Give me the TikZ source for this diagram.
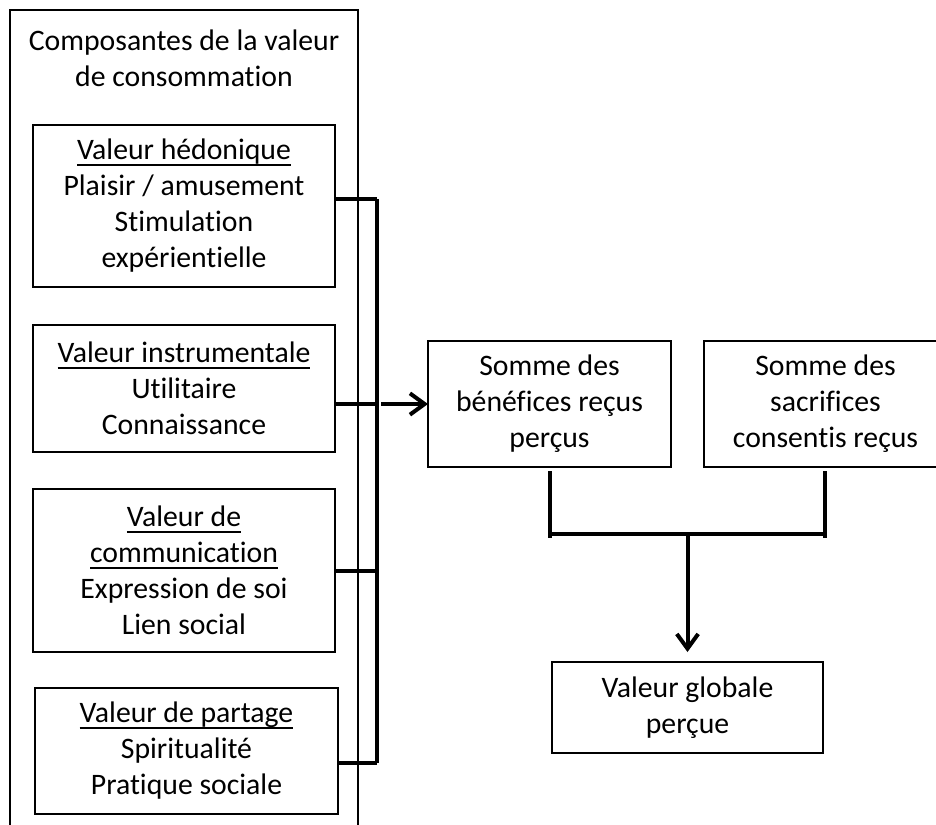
\documentclass[tikz,border=0pt]{standalone}
\usepackage{fontspec}
\setmainfont{Carlito}[RawFeature={-liga;-clig;-calt}]
\usetikzlibrary{arrows.meta}

% underline drawn at a fixed depth below the baseline
\newcommand{\ulword}[1]{\setbox0=\hbox{#1}\rlap{\vrule height -3.3pt depth 4.5pt width \wd0}\box0}

\begin{document}
\begin{tikzpicture}[
  x=0.75pt, y=-0.75pt,
  font=\fontsize{22.3}{27}\selectfont,
  thinline/.style={line width=1.3pt},
  heavy/.style={line width=3pt},
  valbox/.style 2 args={draw, thinline, align=center, inner sep=0pt, outer sep=0pt,
    minimum width=#1*0.75pt, minimum height=#2*0.75pt},
  tip/.style={-{Straight Barb[length=11pt,width=16pt]}},
]
\useasboundingbox (0,0) rectangle (936,825);
\clip (0,0) rectangle (936,825);

% outer frame, open at the bottom of the page
\node[valbox={348}{844}] (frame) at (184,432) {};
\node[align=center] (title) at (184,58) {Composantes de la valeur\\de consommation};

% the four value components
\node[valbox={302}{162}] (h1) at (184,206)
  {\ulword{Valeur hédonique}\\Plaisir / amusement\\Stimulation\\expérientielle};
\node[valbox={302}{127}] (h2) at (184,388.5)
  {\ulword{Valeur instrumentale}\\Utilitaire\\Connaissance};
\node[valbox={302}{163}] (h3) at (184,570.5)
  {\ulword{Valeur de}\\\ulword{communication}\\Expression de soi\\Lien social};
\node[valbox={303}{126}] (h4) at (186.5,751)
  {\ulword{Valeur de partage}\\Spiritualité\\Pratique sociale};

% benefits, sacrifices, overall value
\node[valbox={243}{126}] (ben) at (549.5,404) {Somme des\\bénéfices reçus\\perçus};
\node[valbox={243}{126}] (sac) at (825.5,404) {Somme des\\sacrifices\\consentis reçus};
\node[valbox={271}{91}] (glob) at (687.5,707.5) {Valeur globale\\perçue};

% collecting bus on the right of the components
\coordinate (j1) at (377,199);
\coordinate (j2) at (377,404);
\coordinate (j3) at (377,571);
\coordinate (j4) at (377,763);
\draw[heavy] (j1) -- (j4);
\draw[heavy] (h1.east |- j1) -- (j1);
\draw[heavy] (h2.east |- j2) -- (j2);
\draw[heavy] (h3.east |- j3) -- (j3);
\draw[heavy] (h4.east |- j4) -- (j4);
\draw[heavy, tip, shorten <=3pt] (j2) -- (ben.west);

% bracket joining benefits and sacrifices
\coordinate (m) at (687.5,534);
\coordinate (bl) at (550,471);
\coordinate (br) at (825,471);
\draw[heavy] (bl) -- ++(0,67);
\draw[heavy] (br) -- ++(0,67);
\draw[heavy] (bl |- m) -- (br |- m);
\draw[heavy, tip, shorten >=7.5pt] (m) -- (glob.north);
\end{tikzpicture}
\end{document}
